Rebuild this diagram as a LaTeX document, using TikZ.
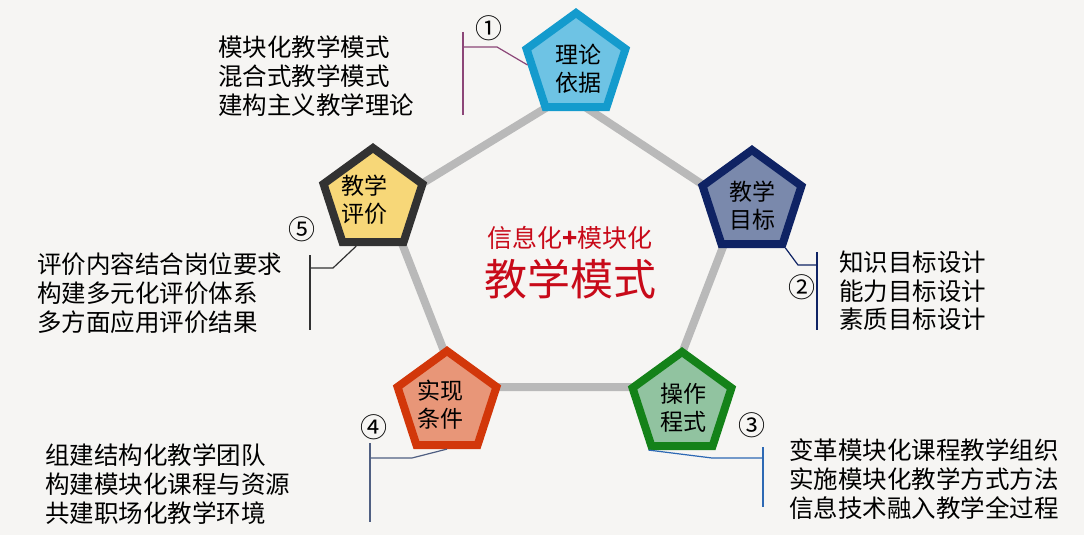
\documentclass[tikz,border=0pt]{standalone}
\usepackage{fontspec}
\setmainfont{Noto Sans CJK SC}
\usetikzlibrary{shapes.geometric,calc}

\definecolor{bgcol}{RGB}{246,245,243}
\definecolor{ringgray}{RGB}{185,185,185}
\definecolor{titlered}{RGB}{200,10,25}
\definecolor{liluncol}{RGB}{20,155,205}
\definecolor{lilunfill}{RGB}{110,195,228}
\definecolor{mubiaocol}{RGB}{15,35,100}
\definecolor{mubiaofill}{RGB}{122,137,172}
\definecolor{chengshicol}{RGB}{20,130,25}
\definecolor{chengshifill}{RGB}{145,195,160}
\definecolor{tiaojiancol}{RGB}{210,55,10}
\definecolor{tiaojianfill}{RGB}{232,150,120}
\definecolor{pingjiacol}{RGB}{50,50,50}
\definecolor{pingjiafill}{RGB}{247,215,120}

\begin{document}
\begin{tikzpicture}[
    x=1pt, y=-1pt,
    pent/.style={regular polygon, regular polygon sides=5, minimum size=104pt, inner sep=0pt, line width=8pt},
    ptext/.style={align=center, inner sep=0pt, font=\fontsize{23}{28}\selectfont},
    note/.style={align=left, anchor=west, inner sep=0pt, font=\fontsize{24.5}{28.7}\selectfont},
    num/.style={inner sep=0pt, font=\fontsize{27}{27}\selectfont},
    ring/.style={draw=ringgray, line width=8pt},
    brk/.style={line width=1.2pt},
  ]
    % background
    \fill[bgcol] (0,0) rectangle (1084,535);
    \useasboundingbox (0,0) rectangle (1084,535);

    % ring behind the pentagons
    \coordinate (hub-lilun) at (567,95);
    \coordinate (hub-mubiao) at (738,208);
    \coordinate (hub-chengshi) at (669,387);
    \coordinate (hub-tiaojian) at (458,387);
    \coordinate (hub-pingjia) at (387,205);
    \draw[ring] (hub-lilun) -- (hub-mubiao) -- (hub-chengshi) -- (hub-tiaojian) -- (hub-pingjia) -- cycle;

    % pentagons
    \node[pent, draw=liluncol, fill=lilunfill] (lilun) at (576,65) {};
    \node[pent, draw=mubiaocol, fill=mubiaofill] (mubiao) at (752,202) {};
    \node[pent, draw=chengshicol, fill=chengshifill] (chengshi) at (682,404) {};
    \node[pent, draw=tiaojiancol, fill=tiaojianfill] (tiaojian) at (447,403) {};
    \node[pent, draw=pingjiacol, fill=pingjiafill] (pingjia) at (373,200) {};
    \node[ptext] (lilun-t) at (578,69) {理论\\依据};
    \node[ptext] (mubiao-t) at (752,206) {教学\\目标};
    \node[ptext] (chengshi-t) at (683,408) {操作\\程式};
    \node[ptext] (tiaojian-t) at (440,405) {实现\\条件};
    \node[ptext] (pingjia-t) at (364,200) {教学\\评价};

    % title
    \node[text=titlered, inner sep=0pt, font=\fontsize{25}{25}\selectfont] (title) at (570,238) {信息化{\bfseries+}模块化};
    \node[text=titlered, inner sep=0pt, font=\fontsize{43}{43}\selectfont] (title-b) at (570,279) {教学模式};

    % 1
    \node[num] (n1) at (489,28) {①};
    \coordinate (b1-top) at (463,32);
    \coordinate (b1-bot) at (463,115);
    \coordinate (b1-knee) at (497,47);
    \draw[brk, draw={rgb,255:red,140;green,70;blue,120}] (b1-top) -- (b1-bot);
    \draw[brk, draw={rgb,255:red,140;green,70;blue,120}] (b1-top |- b1-knee) -- (b1-knee) -- (lilun.west);
    \node[note] (note1) at (218,76) {模块化教学模式\\混合式教学模式\\建构主义教学理论};

    % 2
    \node[num] (n2) at (802,287) {②};
    \coordinate (b2-top) at (817,252);
    \coordinate (b2-bot) at (817,330);
    \coordinate (b2-knee) at (798,265);
    \draw[brk, draw=mubiaocol] (b2-top) -- (b2-bot);
    \draw[brk, draw=mubiaocol] (mubiao.corner 4) -- (b2-knee) -- (b2-top |- b2-knee);
    \node[note] (note2) at (839,291) {知识目标设计\\能力目标设计\\素质目标设计};

    % 3
    \node[num] (n3) at (752,425) {③};
    \coordinate (b3-top) at (763,447);
    \coordinate (b3-bot) at (763,507);
    \coordinate (b3-knee) at (712,458);
    \draw[brk, draw={rgb,255:red,45;green,105;blue,180}] (b3-top) -- (b3-bot);
    \draw[brk, draw={rgb,255:red,45;green,105;blue,180}] (chengshi.corner 3) -- (b3-knee) -- (b3-top |- b3-knee);
    \node[note] (note3) at (789,479) {变革模块化课程教学组织\\实施模块化教学方式方法\\信息技术融入教学全过程};

    % 4
    \node[num] (n4) at (374,427) {④};
    \coordinate (b4-top) at (370,443);
    \coordinate (b4-bot) at (370,522);
    \coordinate (b4-knee) at (412,458);
    \draw[brk, draw={rgb,255:red,80;green,95;blue,130}] (b4-top) -- (b4-bot);
    \draw[brk, draw={rgb,255:red,80;green,95;blue,130}] (tiaojian.south) -- (b4-knee) -- (b4-top |- b4-knee);
    \node[note] (note4) at (45,484) {组建结构化教学团队\\构建模块化课程与资源\\共建职场化教学环境};

    % 5
    \node[num] (n5) at (302,229) {⑤};
    \coordinate (b5-top) at (310,255);
    \coordinate (b5-bot) at (310,330);
    \coordinate (b5-knee) at (333,268);
    \draw[brk, draw=pingjiacol] (b5-top) -- (b5-bot);
    \draw[brk, draw=pingjiacol] ($(pingjia.corner 3)!0.5!(pingjia.south)$) -- (b5-knee) -- (b5-top |- b5-knee);
    \node[note] (note5) at (37,293) {评价内容结合岗位要求\\构建多元化评价体系\\多方面应用评价结果};
  \end{tikzpicture}
\end{document}
